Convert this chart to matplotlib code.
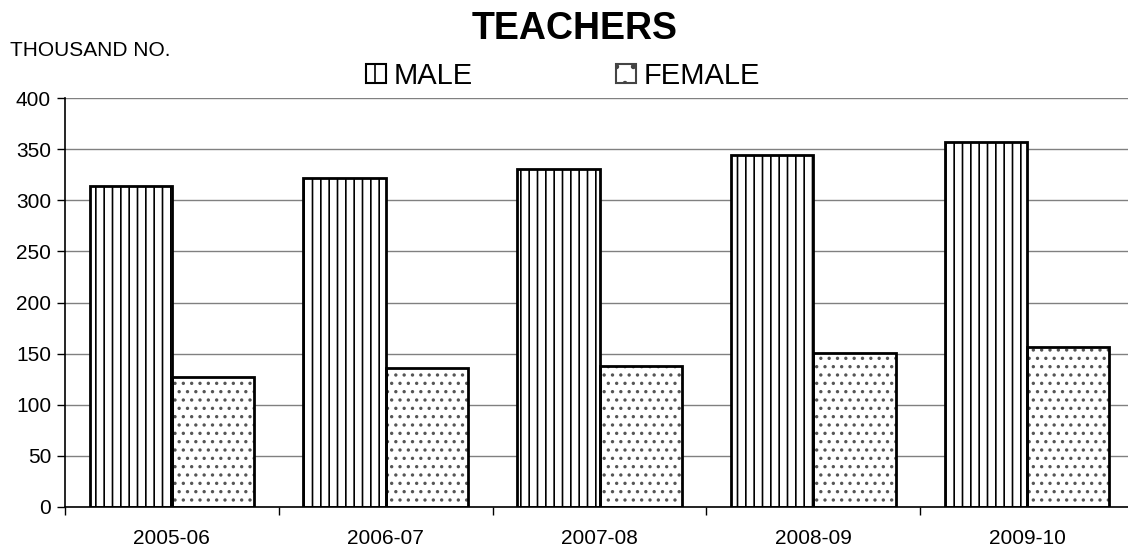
import matplotlib
matplotlib.use("Agg")
import matplotlib.pyplot as plt
from matplotlib.patches import Patch
import numpy as np

plt.rcParams['font.family'] = ['Liberation Sans', 'DejaVu Sans']
plt.rcParams['hatch.linewidth'] = 1.2

years = ["2005-06", "2006-07", "2007-08", "2008-09", "2009-10"]
male = [314, 322, 331, 344, 357]
female = [127, 136, 138, 151, 156]

fig = plt.figure(figsize=(11.28, 5.48), dpi=100)
ax = fig.add_axes([65 / 1128, 1 - 507 / 548, (1134 - 65) / 1128, (507 - 98) / 548])

x = np.arange(len(years)) + 0.5
w = 0.385

# hatch pass (hatch colour comes from edgecolor), then outline pass
ax.bar(x - w / 2, male, w, color='white', edgecolor='black', hatch='||', linewidth=0, zorder=2)
ax.bar(x + w / 2, female, w, color='white', edgecolor='#555555', hatch='..', linewidth=0, zorder=2)
ax.bar(x - w / 2, male, w, fill=False, edgecolor='black', linewidth=2, zorder=3)
ax.bar(x + w / 2, female, w, fill=False, edgecolor='black', linewidth=2, zorder=3)

ax.set_xlim(0, len(years))
ax.set_ylim(0, 400)
ax.set_yticks(range(0, 401, 50))
ax.set_xticks(x)
ax.set_xticklabels(years)
ax.set_xticks(np.arange(len(years) + 1), minor=True)
ax.tick_params(axis='x', which='major', length=0, labelsize=15, pad=16)
ax.tick_params(axis='x', which='minor', length=6, width=1, direction='out')
ax.tick_params(axis='y', length=6, width=1, labelsize=15, pad=4)
ax.yaxis.grid(True, color='#808080', linewidth=1)
ax.set_axisbelow(True)
for s in ['top', 'right']:
    ax.spines[s].set_visible(False)
ax.spines['left'].set_linewidth(1.2)
ax.spines['bottom'].set_linewidth(1.2)

fig.text(575 / 1128, 1 - 29 / 548, "TEACHERS", fontsize=27, fontweight='bold',
         ha='center', va='center')
fig.text(10 / 1128, 1 - 51 / 548, "THOUSAND NO.", fontsize=15, ha='left', va='center')

handles = [Patch(facecolor='white', edgecolor='black', hatch='|', linewidth=1.5),
           Patch(facecolor='white', edgecolor='#444444', hatch='.', linewidth=1.5)]
fig.legend(handles, ["MALE", "FEMALE"], loc='center', bbox_to_anchor=(563 / 1128, 1 - 76 / 548),
           ncol=2, frameon=False, fontsize=21, handlelength=0.68, handleheight=0.62,
           handletextpad=0.27, columnspacing=4.9, borderpad=0)

fig.savefig("out.png", dpi=100)
